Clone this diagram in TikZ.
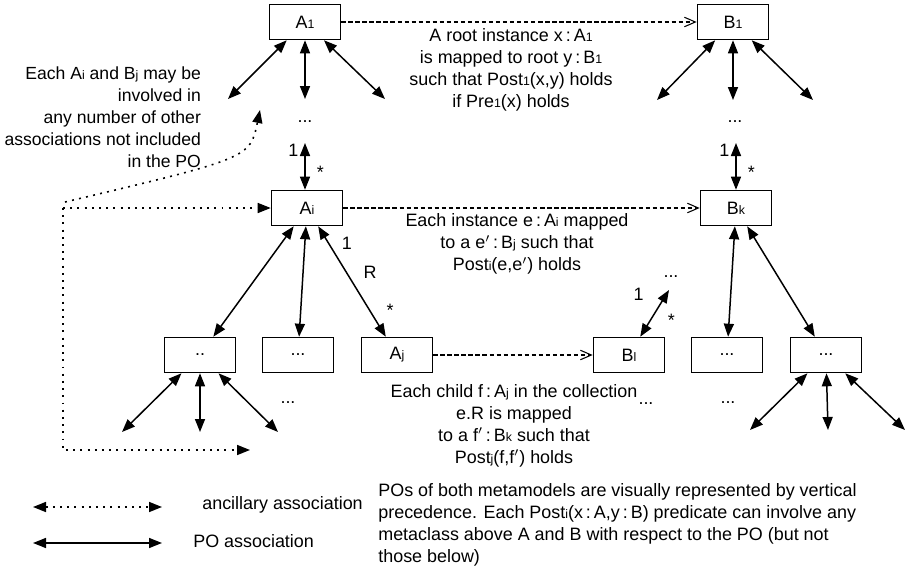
\documentclass[tikz,border=0pt]{standalone}
\usepackage{fontspec}
\setmainfont{Liberation Sans}
\usetikzlibrary{arrows.meta}

\newcommand{\ix}[1]{{\scriptsize #1}}

\begin{document}
\begin{tikzpicture}[
  >={Triangle[length=2.6mm,width=2mm]},
  font=\fontsize{10.2}{12.5}\selectfont,
  cls/.style={draw, line width=0.9pt, minimum width=14.2mm, minimum height=7mm},
  po/.style={<->, line width=0.85pt},
  anc/.style={line width=0.9pt, dash pattern=on 1.1pt off 3pt},
  map/.style={-{Straight Barb[length=2.2mm,width=1.9mm]}, line width=0.6pt, dash pattern=on 2.5pt off 1.5pt},
  note/.style={align=center, inner sep=1pt}
]
  \useasboundingbox (0,0) rectangle (18.2,-11.4);

  % metaclasses
  \node[cls] (A1) at (6.1,-0.44) {A\ix{1}};
  \node[cls] (B1) at (14.66,-0.44) {B\ix{1}};
  \node[cls] (Ai) at (6.14,-4.16) {A\ix{i}};
  \node[cls] (Bk) at (14.72,-4.16) {B\ix{k}};
  \node[cls] (cA) at (4.0,-7.1) {..};
  \node[cls] (cB) at (5.96,-7.1) {...};
  \node[cls] (Aj) at (7.94,-7.1) {A\ix{j}};
  \node[cls] (Bl) at (12.58,-7.1) {B\ix{l}};
  \node[cls] (cC) at (14.54,-7.1) {...};
  \node[cls] (cD) at (16.52,-7.1) {...};

  % loose ends of the PO
  \coordinate (a1l) at (4.56,-1.98);
  \coordinate (a1m) at (6.1,-1.98);
  \coordinate (a1r) at (7.7,-1.98);
  \coordinate (b1l) at (13.14,-2.0);
  \coordinate (b1m) at (14.66,-2.0);
  \coordinate (b1r) at (16.26,-2.0);
  \coordinate (aiup) at (6.1,-2.86);
  \coordinate (bkup) at (14.72,-2.86);
  \coordinate (blup) at (13.38,-5.8);
  \coordinate (cAl) at (2.44,-8.64);
  \coordinate (cAm) at (4.0,-8.64);
  \coordinate (cAr) at (5.56,-8.64);
  \coordinate (cDl) at (15.0,-8.6);
  \coordinate (cDm) at (16.56,-8.6);
  \coordinate (cDr) at (18.1,-8.6);

  \node (dA1) at (6.1,-2.44) {...};
  \node (dB1) at (14.7,-2.44) {...};
  \node (dBl) at (13.42,-5.54) {...};
  \node (dcA) at (5.76,-8.06) {...};
  \node (dBl2) at (12.92,-8.08) {...};
  \node (dcC) at (14.56,-8.06) {...};

  \path[po]
    (A1) edge (a1l)
    (A1) edge (a1m)
    (A1) edge (a1r)
    (B1) edge (b1l)
    (B1) edge (b1m)
    (B1) edge (b1r)
    (aiup) edge node[pos=0.15, left] {1} node[pos=0.62, right=3pt] {*} (aiup |- Ai.north)
    (bkup) edge node[pos=0.15, left] {1} node[pos=0.62, right=3pt] {*} (bkup |- Bk.north)
    (Ai) edge (cA)
    (Ai) edge (cB)
    (Ai) edge node[pos=0.15, right=4pt] {1} node[pos=0.42, right=6pt] {R}
              node[pos=0.76, right=6pt] {*} (Aj)
    (Bk) edge (cC)
    (Bk) edge (cD)
    (Bl) edge node[pos=0.36, right=6pt] {*} node[pos=0.9, left=9pt] {1} (blup)
    (cA) edge (cAl)
    (cA) edge (cAm)
    (cA) edge (cAr)
    (cD) edge (cDl)
    (cD) edge (cDm)
    (cD) edge (cDr);

  % mappings
  \draw[map] (A1) -- (B1);
  \draw[map] (Ai) -- (Bk);
  \draw[map] (Aj) -- (Bl);

  \node[note] (nA) at (10.22,-1.4) {A root instance x\,:\,A\ix{1}\\is mapped to root y\,:\,B\ix{1}\\such that Post\ix{1}(x,y) holds\\if Pre\ix{1}(x) holds};
  \node[note] (nB) at (10.34,-4.88) {Each instance e\,:\,A\ix{i} mapped\\to a e$'$\,:\,B\ix{j} such that\\Post\ix{i}(e,e$'$) holds};
  \node[note] (nC) at (10.28,-8.51) {Each child f\,:\,A\ix{j} in the collection\\e.R is mapped\\to a f$'$\,:\,B\ix{k} such that\\Post\ix{j}(f,f$'$) holds};
  \node[note, align=right, anchor=east, font=\fontsize{10}{12.5}\selectfont] (nL) at (4.06,-2.34) {Each A\ix{i} and B\ix{j} may be\\involved in\\any number of other\\associations not included\\in the PO};

  % ancillary associations
  \coordinate (anc) at (1.26,-4.16);
  \coordinate (ancE) at (5.0,-9.0);
  \coordinate (ancS) at (1.3,-4.04);
  \coordinate (ancT) at (5.2,-2.2);
  \draw[anc,->] (anc) -- (Ai);
  \draw[anc,->] (anc) |- (ancE);
  \draw[anc,->] (ancS) .. controls (5.0,-3.16) .. (ancT);

  % legend
  \coordinate (lgA) at (0.66,-10.14);
  \coordinate (lgB) at (3.24,-10.14);
  \coordinate (lgC) at (0.66,-10.86);
  \coordinate (lgD) at (3.24,-10.86);
  \draw[anc,<->] (lgA) -- (lgB);
  \draw[po] (lgC) -- (lgD);
  \node[anchor=west, inner sep=0pt] (lgtA) at (4.04,-10.1) {ancillary association};
  \node[anchor=west, inner sep=0pt] (lgtB) at (3.86,-10.82) {PO association};

  \node[anchor=north west, align=left, inner sep=0pt] (poNote) at (7.56,-9.66) {POs of both metamodels are visually represented by vertical\\precedence. Each Post\ix{i}(x\,:\,A,y\,:\,B) predicate can involve any\\metaclass above A and B with respect to the PO (but not\\those below)};
\end{tikzpicture}
\end{document}
